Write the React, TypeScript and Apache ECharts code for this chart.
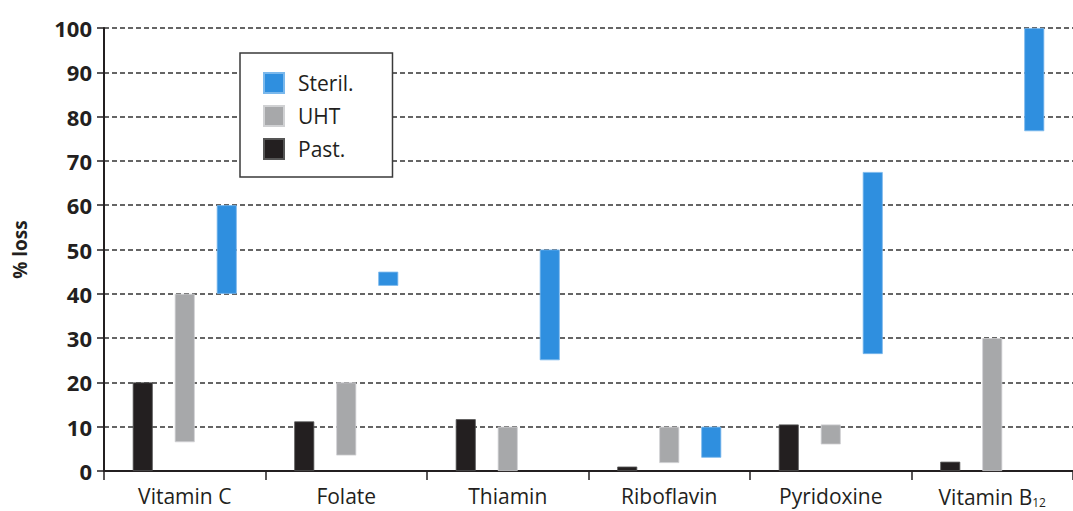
import React, { useEffect, useRef } from "react";
import * as echarts from "echarts";

const categories = ["Vitamin C", "Folate", "Thiamin", "Riboflavin", "Pyridoxine", "Vitamin B12"];
const pastLow = [0, 0, 0, 0, 0, 0];
const pastHigh = [20, 11.2, 11.7, 1, 10.5, 2.1];
const uhtLow = [6.5, 3.5, 0, 1.8, 6, 0];
const uhtHigh = [40, 20, 10, 10, 10.5, 30];
const sterilLow = [40, 41.8, 25, 3, 26.4, 76.7];
const sterilHigh = [60, 45, 50, 10, 67.5, 100];
const yTicks = [0, 10, 20, 30, 40, 50, 60, 70, 80, 90, 100];

const FONT = "Open Sans";
const TEXT = "#231f20";

export default function App() {
  const ref = useRef<HTMLDivElement>(null);
  useEffect(() => {
    if (!ref.current) return;
    const chart = echarts.init(ref.current, null, { renderer: "svg" });
    const diff = (hi: number[], lo: number[]) => hi.map((h, i) => +(h - lo[i]).toFixed(2));
    const base = (name: string, stack: string, data: number[]) => ({
      name,
      type: "bar",
      stack,
      data,
      barWidth: 20,
      barGap: "110%",
      itemStyle: { color: "transparent" },
      emphasis: { disabled: true },
      silent: true,
    });
    const vis = (name: string, stack: string, data: number[], color: string, border: string) => ({
      name,
      type: "bar",
      stack,
      data,
      barWidth: 20,
      barGap: "110%",
      itemStyle: { color, borderColor: border, borderWidth: 0.8 },
    });
    chart.setOption({
      animation: false,
      textStyle: { fontFamily: FONT },
      grid: { left: 104, top: 28, bottom: 40, width: 975 },
      legend: {
        data: ["Steril.", "UHT", "Past."],
        orient: "vertical",
        left: 240,
        top: 53,
        icon: "rect",
        itemWidth: 20,
        itemHeight: 20,
        itemGap: 11,
        padding: [19, 39, 17, 23],
        borderColor: "#3a3a3a",
        borderWidth: 1.5,
        backgroundColor: "#fff",
        textStyle: { fontFamily: FONT, fontSize: 21, color: TEXT, padding: [0, 0, 0, 9] },
      },
      xAxis: {
        type: "category",
        data: categories,
        axisLine: { lineStyle: { color: TEXT, width: 2 } },
        axisTick: { show: true, interval: 0, length: 9, lineStyle: { color: TEXT, width: 1.5 } },
        axisLabel: {
          interval: 0,
          margin: 14,
          fontSize: 21,
          color: TEXT,
          fontFamily: FONT,
          formatter: (v: string) => (v === "Vitamin B12" ? "Vitamin B{sub|12}" : v),
          rich: {
            sub: { fontSize: 12, verticalAlign: "bottom", padding: [11, 0, 0, 0], color: TEXT, fontFamily: FONT },
          },
        },
      },
      yAxis: {
        type: "value",
        min: yTicks[0],
        max: yTicks[yTicks.length - 1],
        interval: 10,
        name: "% loss",
        nameLocation: "middle",
        nameRotate: 90,
        nameGap: 75,
        nameTextStyle: { fontSize: 19, fontWeight: "bold", color: TEXT, fontFamily: FONT },
        axisLine: { show: true, lineStyle: { color: TEXT, width: 2 } },
        axisTick: { show: true, length: 7, lineStyle: { color: TEXT, width: 1.5 } },
        axisLabel: { margin: 12, fontSize: 22, fontWeight: "bold", color: TEXT, fontFamily: FONT },
        splitLine: { lineStyle: { color: "#333", type: [5, 3], width: 1.5 } },
      },
      series: [
        base("pastBase", "past", pastLow),
        vis("Past.", "past", diff(pastHigh, pastLow), "#231f20", "#555"),
        base("uhtBase", "uht", uhtLow),
        vis("UHT", "uht", diff(uhtHigh, uhtLow), "#a7a8aa", "#d0d1d3"),
        base("sterilBase", "steril", sterilLow),
        vis("Steril.", "steril", diff(sterilHigh, sterilLow), "#2f8fdf", "#7ab8ec"),
      ],
    });
    return () => chart.dispose();
  }, []);
  return <div ref={ref} style={{ position: "absolute", left: 0, top: 0, width: 1073, height: 511 }} />;
}
